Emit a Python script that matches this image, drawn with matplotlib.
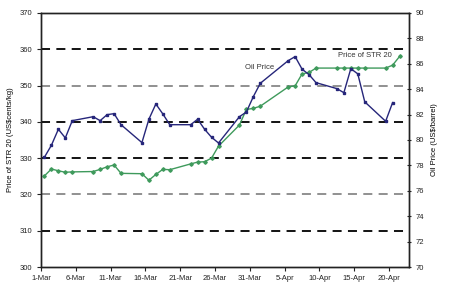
import matplotlib
matplotlib.use("Agg")
import matplotlib.pyplot as plt
import pandas as pd

plt.rcParams['font.family'] = ['Liberation Sans', 'DejaVu Sans']

oil_dates = ["2010-03-01", "2010-03-02", "2010-03-03", "2010-03-04", "2010-03-05",
             "2010-03-08", "2010-03-09", "2010-03-10", "2010-03-11", "2010-03-12",
             "2010-03-15", "2010-03-16", "2010-03-17", "2010-03-18", "2010-03-19",
             "2010-03-22", "2010-03-23", "2010-03-24", "2010-03-25", "2010-03-26",
             "2010-03-29", "2010-03-30", "2010-03-31", "2010-04-01",
             "2010-04-05", "2010-04-06", "2010-04-07", "2010-04-08", "2010-04-09",
             "2010-04-12", "2010-04-13", "2010-04-14", "2010-04-15", "2010-04-16",
             "2010-04-19", "2010-04-20"]
oil_price = [78.64, 79.58, 80.84, 80.16, 81.52,
             81.83, 81.52, 81.99, 82.07, 81.20,
             79.79, 81.63, 82.83, 82.05, 81.20,
             81.20, 81.63, 80.84, 80.21, 79.76,
             81.83, 82.20, 83.41, 84.46,
             86.24, 86.56, 85.57, 85.14, 84.51,
             84.04, 83.72, 85.61, 85.20, 83.00,
             81.47, 82.94]

str_dates = oil_dates + ["2010-04-21"]
str20_price = [325.1, 327.0, 326.5, 326.1, 326.2,
               326.3, 326.9, 327.6, 328.1, 325.8,
               325.7, 323.9, 325.5, 326.9, 326.8,
               328.4, 328.9, 329.0, 330.0, 333.3,
               339.1, 343.4, 343.7, 344.3,
               349.6, 349.9, 353.2, 353.6, 354.8,
               354.8, 354.8, 354.8, 354.8, 354.8,
               354.8, 355.6, 358.0]

tick_labels = ["1-Mar", "6-Mar", "11-Mar", "16-Mar", "21-Mar", "26-Mar",
               "31-Mar", "5-Apr", "10-Apr", "15-Apr", "20-Apr"]

start = pd.Timestamp("2010-03-01")
def day_offset(ds):
    return [(pd.Timestamp(d) - start).days + 0.5 for d in ds]

x_oil = day_offset(oil_dates)
x_str = day_offset(str_dates)
tick_pos = [(pd.Timestamp(f"2010-{'03' if 'Mar' in t else '04'}-{int(t.split('-')[0]):02d}") - start).days
            for t in tick_labels]

fig = plt.figure(figsize=(4.5, 3), dpi=100)
ax = fig.add_axes([0.091, 0.11, 0.8186, 0.847])
ax2 = ax.twinx()

# gridlines
for v, c in [(360, 'black'), (350, '#888888'), (340, 'black'),
             (330, 'black'), (320, '#888888'), (310, 'black')]:
    ax.axhline(v, color=c, lw=1.3, ls=(0, (5, 3.5)), zorder=1)

green = '#3f9a5c'
blue = '#26267a'
ax.plot(x_str, str20_price, color=green, lw=1.0, marker='D', ms=1.8, zorder=3)
ax2.plot(x_oil, oil_price, color=blue, lw=1.0, marker='s', ms=2.0, zorder=3)

ax.set_xlim(0, 52.9)
ax.set_ylim(300, 370)
ax.set_yticks(range(300, 371, 10))
ax2.set_ylim(70, 90)
ax2.set_yticks(range(70, 91, 2))
ax.set_xticks(tick_pos)
ax.set_xticklabels(tick_labels)

for a in (ax, ax2):
    for s in a.spines.values():
        s.set_linewidth(1.0)
        s.set_color('#222222')
ax.tick_params(axis='both', labelsize=5.5, length=3, width=0.8, colors='#222222', pad=3)
ax2.tick_params(axis='y', labelsize=5.5, length=3, width=0.8, colors='#222222',
                direction='inout', pad=3)

ax.set_ylabel("Price of STR 20 (US$cents/kg)", fontsize=5.5, labelpad=4)
ax2.set_ylabel("Oil Price (US$/barrel)", fontsize=5.5, labelpad=5)

ax.annotate("Oil Price", xy=(0.594, 0.784), xycoords='axes fraction',
            fontsize=5.5, ha='center', va='center', color='#333333')
ax.annotate("Price of STR 20", xy=(0.88, 0.832), xycoords='axes fraction',
            fontsize=5.5, ha='center', va='center', color='#333333')

fig.savefig("out.png", dpi=100)
